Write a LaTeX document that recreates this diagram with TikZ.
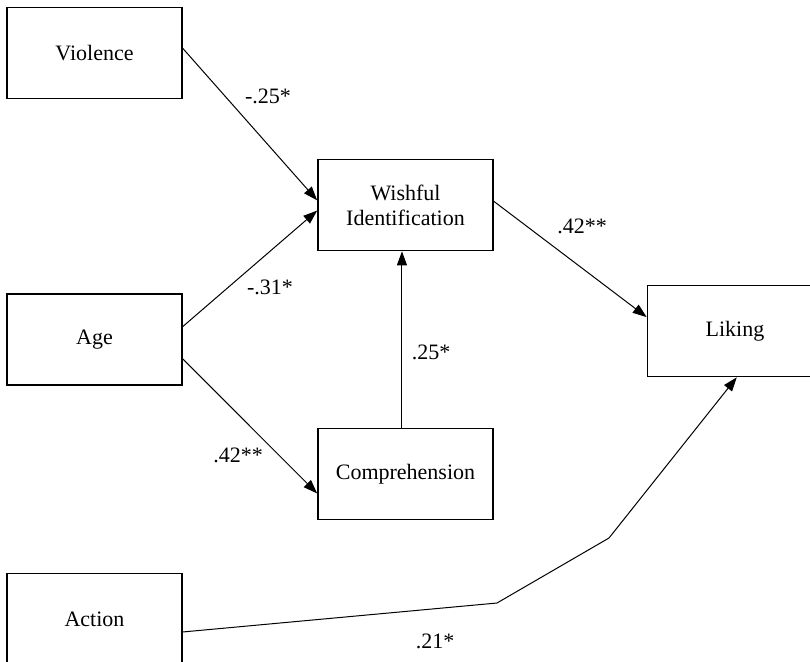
\documentclass[tikz,border=0pt]{standalone}
\usepackage{fontspec}
\setmainfont{Liberation Serif}
\usepackage{tikz}
\usetikzlibrary{positioning,arrows.meta,calc}

\begin{document}
\begin{tikzpicture}[
  x=0.5pt,y=-0.5pt,
  every node/.style={font=\fontsize{11}{12.5}\selectfont},
  var/.style={draw,line width=0.8pt,minimum width=87.5pt,minimum height=45.5pt,align=center,inner sep=2pt},
  coef/.style={inner sep=1pt},
  arr/.style={-{Triangle[length=7pt,width=5pt]},line width=0.5pt}]
  \useasboundingbox (0,0) rectangle (810,661);
  % variables
  \node[var] (viol) at (94.5,53) {Violence};
  \node[var] (age)  at (94.5,339.5)  {Age};
  \node[var] (act)  at (94.5,619) {Action};
  \node[var] (wish) at (405.5,205) {Wishful\\Identification};
  \node[var] (comp) at (405.5,474) {Comprehension};
  \node[var] (lik)  at (735,331) {Liking};
  % bends of the action path
  \coordinate (b1) at (497,603);
  \coordinate (b2) at (609,538);
  % paths
  \draw[arr] ($(viol.north east)!0.45!(viol.south east)$) -- ($(wish.north west)!0.45!(wish.south west)$);
  \draw[arr] ($(age.north east)!0.36!(age.south east)$) -- ($(wish.north west)!0.56!(wish.south west)$);
  \draw[arr] ($(age.north east)!0.71!(age.south east)$) -- ($(comp.north west)!0.71!(comp.south west)$);
  \draw[arr] ($(comp.north west)!0.48!(comp.north east)$) -- ($(wish.south west)!0.48!(wish.south east)$);
  \draw[arr] ($(wish.north east)!0.46!(wish.south east)$) -- ($(lik.north west)!0.35!(lik.south west)$);
  \draw[arr] ($(act.north east)!0.64!(act.south east)$) -- (b1) -- (b2) -- ($(lik.south west)!0.51!(lik.south east)$);
  % coefficients
  \node[coef] (c1) at (268,96)  {-.25*};
  \node[coef] (c2) at (270,287) {-.31*};
  \node[coef] (c3) at (238,455) {.42**};
  \node[coef] (c4) at (431,352) {.25*};
  \node[coef] (c5) at (582,226) {.42**};
  \node[coef] (c6) at (435,641) {.21*};
\end{tikzpicture}
\end{document}
